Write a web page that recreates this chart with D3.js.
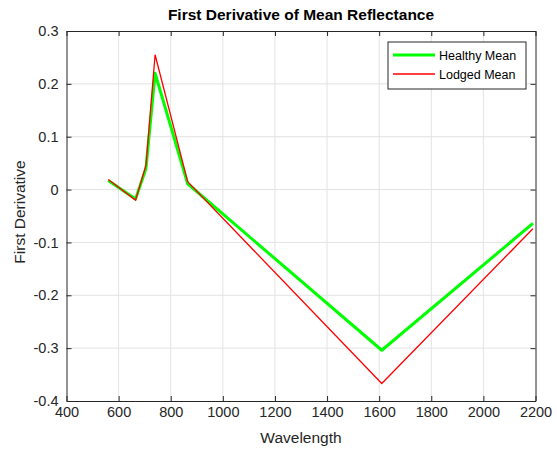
<!DOCTYPE html>
<html>
<head>
<meta charset="utf-8">
<script src="https://cdn.jsdelivr.net/npm/d3@7"></script>
<style>
  body { margin: 0; background: #fff; }
  svg { font-family: "Liberation Sans", Arial, sans-serif; }
</style>
</head>
<body>
<div id="chart"></div>
<script>
// wavelengths (nm) and first derivative values
const wavelengths = [560, 665, 705, 740, 865, 1610, 2190];
const healthyMean = [0.017, -0.018, 0.040, 0.220, 0.011, -0.304, -0.064];
const lodgedMean  = [0.019, -0.020, 0.046, 0.255, 0.015, -0.367, -0.074];
const xTicks = [400, 600, 800, 1000, 1200, 1400, 1600, 1800, 2000, 2200];
const yTicks = [-0.4, -0.3, -0.2, -0.1, 0, 0.1, 0.2, 0.3];

const w = 557, h = 452;
const m = { left: 66.5, right: 21.5, top: 31, bottom: 51 };

const svg = d3.select('#chart').append('svg').attr('width', w).attr('height', h);

const x = d3.scaleLinear().domain([400, 2200]).range([m.left, w - m.right]);
const y = d3.scaleLinear().domain([-0.4, 0.3]).range([h - m.bottom, m.top]);

// grid
svg.append('g').selectAll('line').data(xTicks.slice(1, -1)).enter().append('line')
  .attr('x1', d => x(d)).attr('x2', d => x(d))
  .attr('y1', y(0.3)).attr('y2', y(-0.4))
  .attr('stroke', '#e3e3e3').attr('stroke-width', 1);
svg.append('g').selectAll('line').data(yTicks.slice(1, -1)).enter().append('line')
  .attr('y1', d => y(d)).attr('y2', d => y(d))
  .attr('x1', x(400)).attr('x2', x(2200))
  .attr('stroke', '#e3e3e3').attr('stroke-width', 1);

// axes (ticks inside the box), plain hyphen minus like matlab
const fmtY = d => d === 0 ? '0' : d.toFixed(1);
const xAxis = d3.axisBottom(x).tickValues(xTicks).tickSizeInner(-5).tickSizeOuter(0).tickPadding(6)
  .tickFormat(d => String(d));
const yAxis = d3.axisLeft(y).tickValues(yTicks).tickSizeInner(-5).tickSizeOuter(0).tickPadding(8)
  .tickFormat(fmtY);

svg.append('g').attr('transform', 'translate(0,' + y(-0.4) + ')').call(xAxis);
svg.append('g').attr('transform', 'translate(' + x(400) + ',0)').call(yAxis);
svg.append('g').attr('transform', 'translate(0,' + y(0.3) + ')')
  .call(d3.axisTop(x).tickValues(xTicks).tickSizeInner(-5).tickSizeOuter(0).tickFormat(''));
svg.append('g').attr('transform', 'translate(' + x(2200) + ',0)')
  .call(d3.axisRight(y).tickValues(yTicks).tickSizeInner(-5).tickSizeOuter(0).tickFormat(''));

svg.selectAll('.domain').attr('stroke', '#262626');
svg.selectAll('.tick line').attr('stroke', '#262626');
svg.selectAll('.tick text').attr('fill', '#262626').style('font-size', '14.5px');

// lines
const line = vals => d3.line()
  .x((d, i) => x(wavelengths[i]))
  .y(d => y(d))(vals);

svg.append('path').attr('d', line(healthyMean))
  .attr('fill', 'none').attr('stroke', '#00ff00').attr('stroke-width', 3)
  .attr('stroke-linejoin', 'round');
svg.append('path').attr('d', line(lodgedMean))
  .attr('fill', 'none').attr('stroke', '#ff0000').attr('stroke-width', 1.3);

// title & labels
svg.append('text').attr('x', x(1300)).attr('y', 20)
  .attr('text-anchor', 'middle').style('font-size', '15.5px').style('font-weight', 'bold')
  .attr('fill', '#000').text('First Derivative of Mean Reflectance');
svg.append('text').attr('x', x(1300)).attr('y', 443)
  .attr('text-anchor', 'middle').style('font-size', '15.5px').attr('fill', '#262626')
  .text('Wavelength');
svg.append('text').attr('transform', 'translate(25,212) rotate(-90)')
  .attr('text-anchor', 'middle').style('font-size', '15.5px').attr('fill', '#262626')
  .text('First Derivative');

// legend
const lg = svg.append('g').attr('transform', 'translate(388,42)');
lg.append('rect').attr('width', 138).attr('height', 47)
  .attr('fill', '#fff').attr('stroke', '#262626').attr('stroke-width', 1);
const items = [
  { name: 'Healthy Mean', color: '#00ff00', width: 3 },
  { name: 'Lodged Mean', color: '#ff0000', width: 1.3 }
];
items.forEach((it, i) => {
  const yy = 13 + i * 19;
  lg.append('line').attr('x1', 5).attr('x2', 47).attr('y1', yy).attr('y2', yy)
    .attr('stroke', it.color).attr('stroke-width', it.width);
  lg.append('text').attr('x', 51).attr('y', yy + 4.5)
    .style('font-size', '12.5px').attr('fill', '#000').text(it.name);
});
</script>
</body>
</html>
